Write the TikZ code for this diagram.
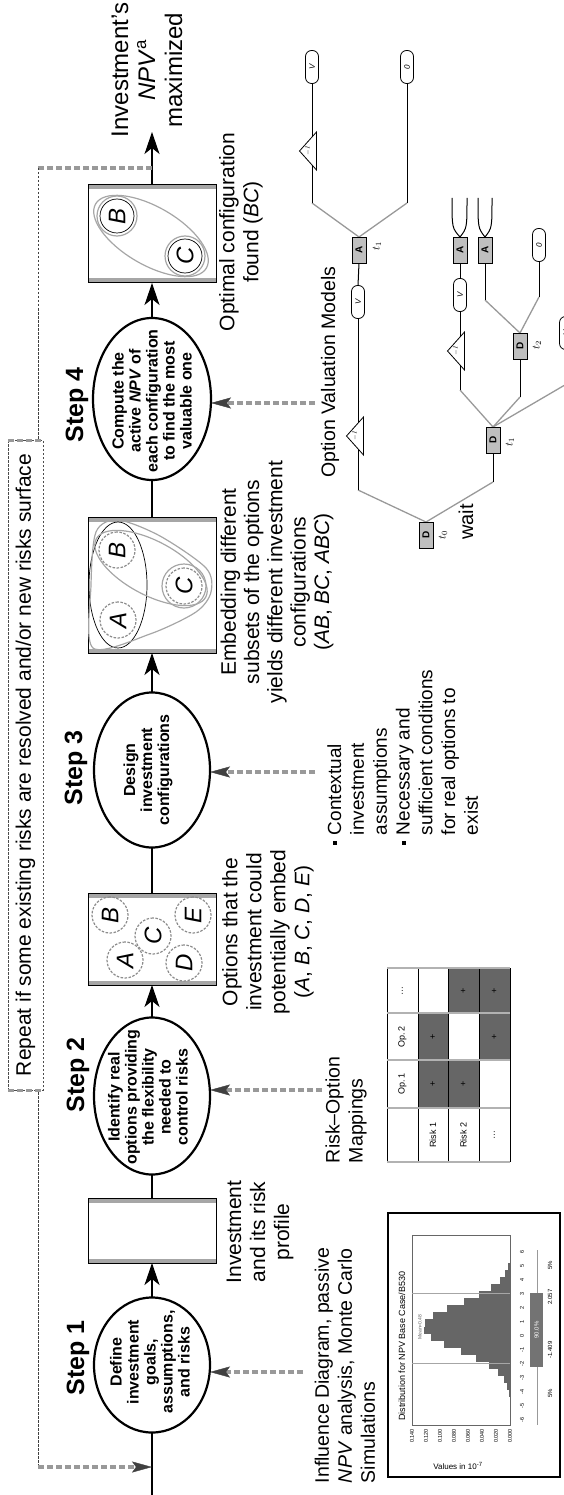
\documentclass[tikz,border=0pt]{standalone}
\usepackage{fontspec}
\setmainfont{Liberation Sans}
\usetikzlibrary{arrows.meta,shapes.geometric}
\pgfdeclarelayer{back}
\pgfdeclarelayer{mid}
\pgfsetlayers{back,mid,main}

\newcommand\fsz[2]{\fontsize{#1}{#2}\selectfont}
\newcommand\stagebands[1]{%
  \draw[band] ([yshift=-2.5pt]#1.north east) -- ([yshift=-2.5pt]#1.south east)
              ([yshift=2.5pt]#1.north west) -- ([yshift=2.5pt]#1.south west);}

\tikzset{
  every node/.style={rotate=90, inner sep=0pt, outer sep=0pt},
  stepring/.style={ellipse, draw, line width=2.2pt, minimum height=116pt},
  steptext/.style={align=center, font=\fsz{16}{17}\bfseries},
  steptitle/.style={font=\fsz{25}{25}\bfseries},
  stagebox/.style={rectangle, draw=black, line width=1pt, minimum height=128pt},
  band/.style={draw=black!35, line width=4pt},
  flow/.style={line width=1.2pt},
  flowtip/.style={-{Stealth[length=22pt,width=15pt,inset=6pt]}},
  feed/.style={draw=black!40, line width=3.5pt, dash pattern=on 6pt off 3pt},
  feedtip/.style={-{Stealth[length=20pt,width=11pt,inset=4pt,line width=.4pt,color=black!75]}},
  loopline/.style={draw=black!75, line width=.9pt, dash pattern=on 2.5pt off 1.5pt},
  caption/.style={align=center, font=\fsz{21}{24}},
  inlabel/.style={align=left, font=\fsz{19.5}{23}},
  optc/.style={circle, draw=black!45, line width=1.2pt, dash pattern=on 2.5pt off 1.5pt,
    minimum size=36pt, font=\fsz{24}{24}\itshape},
  optfound/.style={circle, draw=black, line width=.7pt, minimum size=34pt, font=\fsz{24}{24}\itshape},
  setline/.style={draw=black!35, line width=1.2pt},
  tcell/.style={rectangle, minimum height=31pt, font=\fsz{9}{9}},
  tfill/.style={tcell, fill=black!60},
  tiny/.style={font=\fsz{6}{6}},
  sq/.style={rectangle, draw=black, line width=.8pt, fill=black!25, minimum width=26pt,
    minimum height=14pt, font=\fsz{10}{10}\bfseries},
  term/.style={rectangle, rounded corners=6pt, draw=black, line width=.8pt, fill=white,
    minimum width=33pt, minimum height=13pt, font=\fsz{8}{8}\itshape},
  trinode/.style={rectangle, minimum width=38pt, minimum height=17pt, font=\fsz{6}{6}},
  tl/.style={font=\fsz{11}{11}},
  treev/.style={draw=black, line width=1pt},
  treed/.style={draw=black!40, line width=1.3pt},
}

\begin{document}
\begin{tikzpicture}[x=1pt,y=-1pt]
\useasboundingbox (0,0) rectangle (564,1495);

% ---------- process chain ----------
\coordinate (start) at (152,1495);
\node[stepring, minimum width=135pt] (s1) at (152,1365) {};
\node[steptext] (s1t) at (150,1362) {Define\\investment\\goals,\\assumptions,\\and risks};
\node[steptitle] (s1h) at (78,1358) {Step 1};
\node[stagebox, minimum width=65pt] (b1) at (152,1230.5) {};

\node[stepring, minimum width=157pt] (s2) at (152,1096) {};
\node[steptext] (s2t) at (148,1097) {Identify real\\options providing\\the flexibility\\needed to\\control risks};
\node[steptitle] (s2h) at (78,1075) {Step 2};
\node[stagebox, minimum width=92pt] (b2) at (152,939) {};

\node[stepring, minimum width=155pt] (s3) at (152,770) {};
\node[steptext] (s3t) at (148,770) {Design\\investment\\configurations};
\node[steptitle] (s3h) at (76,768) {Step 3};
\node[stagebox, minimum width=136pt] (b3) at (152,585) {};

\node[stepring, minimum width=162pt, minimum height=118pt] (s4) at (152,399) {};
\node[steptext] (s4t) at (152,401) {Compute the\\active \textit{NPV} of\\each configuration\\to find the most\\valuable one};
\node[steptitle] (s4h) at (77,405) {Step 4};
\node[stagebox, minimum width=98pt] (b4) at (152,234) {};

\coordinate (goal) at (152,132);
\node[align=center, font=\fsz{24}{27}] (goalt) at (147,70) {Investment's\\\textit{NPV}\textsuperscript{a}\\maximized};

% captions of the stage boxes
\node[caption] (c1) at (260,1232) {Investment\\and its risk\\profile};
\node[caption] (c2) at (268,932) {Options that the\\investment could\\potentially embed\\(\textit{A}, \textit{B}, \textit{C}, \textit{D}, \textit{E})};
\node[caption, font=\fsz{21}{23.3}] (c3) at (277,582) {Embedding different\\subsets of the options\\yields different investment\\configurations\\(\textit{AB}, \textit{BC}, \textit{ABC})};
\node[caption] (c4) at (241,232) {Optimal configuration\\found (\textit{BC})};

% inputs of each step
\coordinate (in1) at (303,1372);
\coordinate (in2) at (322,1090);
\coordinate (in3) at (315,772);
\coordinate (in4) at (315,403);
\node[inlabel, anchor=west] (i1) at (345,1483) {Influence Diagram, passive\\\textit{NPV} analysis, Monte Carlo\\Simulations};
\node[inlabel, anchor=west] (i2) at (346,1163) {Risk–Option\\Mappings};
\node[anchor=west, font=\fsz{19}{22.8}] (i3) at (405,845) {%
  \begin{tabular}{@{}l@{\hspace{6pt}}l@{}}
  \raisebox{4pt}{\rule{4pt}{4pt}} & Contextual\\
   & investment\\
   & assumptions\\
  \raisebox{4pt}{\rule{4pt}{4pt}} & Necessary and\\
   & sufficient conditions\\
   & for real options to\\
   & exist
  \end{tabular}};
\node[font=\fsz{19.5}{23}] (i4) at (330,372) {Option Valuation Models};

% feedback loop
\coordinate (r1) at (152,168);
\coordinate (r2) at (38,168);
\coordinate (r3) at (38,1467);
\coordinate (r4) at (152,1467);
\node[draw=black!70, line width=.8pt, dash pattern=on 2.5pt off 1.5pt, fill=white,
      minimum width=650pt, minimum height=35pt, font=\fsz{21}{21}] (rep) at (25.5,765)
      {Repeat if some existing risks are resolved and/or new risks surface};
\draw[feed, line width=3pt] (rep.north west) -- (rep.south west) (rep.north east) -- (rep.south east);

\begin{pgfonlayer}{back}
  \stagebands{b1}\stagebands{b2}\stagebands{b3}\stagebands{b4}
  \draw[flow] (start) -- (s1.west);
  \draw[flow, flowtip] (s1.east) -- (b1.west);
  \draw[flow] (b1.east) -- (s2.west);
  \draw[flow, flowtip] (s2.east) -- (b2.west);
  \draw[flow] (b2.east) -- (s3.west);
  \draw[flow, flowtip] (s3.east) -- (b3.west);
  \draw[flow] (b3.east) -- (s4.west);
  \draw[flow, flowtip] (s4.east) -- (b4.west);
  \draw[flow, flowtip] (b4.east) -- (goal);
  \draw[feed, feedtip] (in1) -- (in1 -| s1.south);
  \draw[feed, feedtip] (in2) -- (in2 -| s2.south);
  \draw[feed, feedtip] (in3) -- (in3 -| s3.south);
  \draw[feed, feedtip] (in4) -- (in4 -| s4.south);
  \draw[feed] (r1) -- (r2);
  \draw[loopline] (r2) -- (r3);
  \draw[feed, feedtip] (r3) -- (r4);
\end{pgfonlayer}

% ---------- options that could be embedded ----------
\node[optc] (oB) at (110,915) {B};
\node[optc] (oE) at (193,915) {E};
\node[optc] (oC) at (153,936) {C};
\node[optc] (oA) at (125,960) {A};
\node[optc] (oD) at (184,963) {D};

% ---------- configurations ----------
\node[optc] (eA) at (118,620) {A};
\node[optc] (eB) at (117,550) {B};
\node[optc] (eC) at (184,586) {C};
\draw[black, line width=.7pt] (118,585) ellipse [x radius=29, y radius=63];
\draw[setline] (eC) circle [radius=22];
\draw[setline, rotate around={-28:(151,568)}] (151,568) ellipse [x radius=62, y radius=27];
\draw[setline] plot[smooth cycle] coordinates {(93,648) (91,585) (96,532) (118,520) (160,536) (206,568) (211,592) (196,612) (150,634)};

% ---------- optimal configuration ----------
\node[optfound] (fB) at (117,216) {B};
\node[optfound] (fC) at (185,256) {C};
\draw[setline] (fB) circle [radius=20];
\draw[setline] (fC) circle [radius=20];
\draw[setline, rotate around={-30:(151,236)}] (151,236) ellipse [x radius=64, y radius=29];

% ---------- risk-option mapping table ----------
\node[tcell] (h1) at (402.5,1084) {Op.\,1};
\node[tcell] (h2) at (402.5,1036.5) {Op.\,2};
\node[tcell] (h3) at (402.5,990.5) {\dots};
\node[tcell] (rl1) at (433,1135) {Risk 1};
\node[tcell] (rl2) at (463.5,1135) {Risk 2};
\node[tcell] (rl3) at (494.5,1135) {\dots};
\node[tfill, minimum width=48pt] (c11) at (433,1084) {+};
\node[tfill, minimum width=47pt] (c12) at (433,1036.5) {+};
\node[tfill, minimum width=48pt] (c21) at (463.5,1084) {+};
\node[tfill, minimum width=45pt] (c23) at (463.5,990.5) {+};
\node[tfill, minimum width=47pt] (c32) at (494.5,1036.5) {+};
\node[tfill, minimum width=45pt] (c33) at (494.5,990.5) {+};
\foreach \gx in {387,418,448.5,479,510} \draw[black, line width=.8pt] (\gx,968) -- (\gx,1162);
\foreach \gy in {968,1013,1060,1108,1162} \draw[black!30, line width=2pt] (387,\gy) -- (510,\gy);

% ---------- NPV distribution ----------
\draw[line width=2pt] (388,1213) rectangle (560,1477);
\foreach \k in {0,...,18}{
  \pgfmathsetmacro\ya{1397-\k*7.05}
  \pgfmathsetmacro\yb{\ya-7.05}
  \pgfmathsetmacro\hh{87*exp(-((\k+0.5-9.9)^2)/(2*3.2*3.2))}
  \fill[black!60] ({510-\hh},\ya) rectangle (510,\yb);
}
\draw[black!60, line width=.6pt] (412,1235) rectangle (510,1425);
\draw[black!35, line width=.6pt] (412,1293) -- (510,1293) (412,1363) -- (510,1363);
\node[font=\fsz{9}{9}] (htitle) at (402,1346) {Distribution for NPV Base Case/B530};
\node[font=\fsz{5}{5}, text=black!60] (hmean) at (420,1327) {Mean=0.48};
\foreach \i/\v in {0/0.140,1/0.120,2/0.100,3/0.080,4/0.060,5/0.040,6/0.020,7/0.000}
  \node[font=\fsz{5.5}{5.5}, anchor=east] (yt\i) at ({412+\i*14},1429) {\v};
\foreach \i in {0,...,12}{
  \pgfmathtruncatemacro\v{\i-6}
  \node[font=\fsz{5.5}{5.5}] (xt\i) at (522,{1420-\i*14}) {\v};
}
\node[font=\fsz{8}{8}, rotate=-90] (hval) at (458,1466) {Values in 10\textsuperscript{-7}};
\draw[black!40, line width=.6pt] (537,1250) -- (537,1425);
\fill[black!55] (530,1293) rectangle (543,1367);
\node[font=\fsz{6}{6}, text=white] (hband) at (536.5,1330) {90.0\%};
\node[tiny] (p1) at (550,1393) {5\%};
\node[tiny] (p2) at (550,1350) {-1.409};
\node[tiny] (p3) at (550,1297) {2.057};
\node[tiny] (p4) at (550,1265) {5\%};

% ---------- option valuation tree ----------
\node[sq] (T0) at (426,535) {D};
\node[tl] (T0l) at (443,535) {$t_0$};
\node[font=\fsz{20}{20}] (waitl) at (466,522) {wait};
\coordinate (j1) at (358,490);
\node[trinode] (Tr1) at (355,436) {$-I$};
\node[term] (V1) at (358,302) {V};
\node[sq] (A1) at (359,250) {A};
\node[tl] (A1l) at (377,246) {$t_1$};
\coordinate (j2) at (312,203);
\coordinate (j3) at (407,203);
\node[trinode] (Tr2) at (308,151) {$-I$};
\node[term] (V2) at (312,67) {V};
\node[term] (Z1) at (407,67) {0};
\coordinate (j4) at (493,482);
\node[sq] (T1) at (493,440) {D};
\node[tl] (T1l) at (510,442) {$t_1$};
\coordinate (j5) at (460,390);
\node[trinode] (Tr3) at (456,351) {$-I$};
\node[term] (V3) at (460,295) {V};
\node[sq] (A2) at (460,250) {A};
\coordinate (a2l) at (452,198);
\coordinate (a2r) at (467,198);
\coordinate (j6) at (520,397);
\node[sq] (T2) at (520,346) {D};
\node[tl] (T2l) at (537,345) {$t_2$};
\coordinate (j7) at (485,300);
\node[sq] (A3) at (485,250) {A};
\coordinate (a3l) at (478,198);
\coordinate (a3r) at (492,198);
\coordinate (j8) at (539,297);
\node[term] (Z2) at (539,245) {0};
\coordinate (j9) at (570,382);
\node[term] (V4) at (566,333) {V};

\begin{pgfonlayer}{back}
  \draw[treed] (T0.east) -- (j1);
  \draw[treev] (j1) -- (V1.west);
  \draw[treev] (V1.east) -- (A1.west);
  \draw[treed] (A1.east) -- (j2);
  \draw[treed] (A1.east) -- (j3);
  \draw[treev] (j2) -- (V2.west);
  \draw[treev] (j3) -- (Z1.west);
  \draw[treed] (T0.east) -- (j4);
  \draw[treev] (j4) -- (T1.west);
  \draw[treed] (T1.east) -- (j5);
  \draw[treev] (j5) -- (V3.west);
  \draw[treev] (V3.east) -- (A2.west);
  \draw[treev] (A2.east) .. controls (452,228) .. (a2l);
  \draw[treev] (A2.east) .. controls (467,228) .. (a2r);
  \draw[treed] (T1.east) -- (j6);
  \draw[treev] (j6) -- (T2.west);
  \draw[treed] (T2.east) -- (j7);
  \draw[treev] (j7) -- (A3.west);
  \draw[treev] (A3.east) .. controls (478,228) .. (a3l);
  \draw[treev] (A3.east) .. controls (492,228) .. (a3r);
  \draw[treed] (T2.east) -- (j8);
  \draw[treev] (j8) -- (Z2.west);
  \draw[treed] (T1.east) -- (j9);
\end{pgfonlayer}
\begin{pgfonlayer}{mid}
  \foreach \t in {Tr1,Tr2,Tr3}
    \filldraw[fill=white, draw=black, line width=.8pt] (\t.north) -- (\t.south west) -- (\t.south east) -- cycle;
\end{pgfonlayer}
\end{tikzpicture}
\end{document}
